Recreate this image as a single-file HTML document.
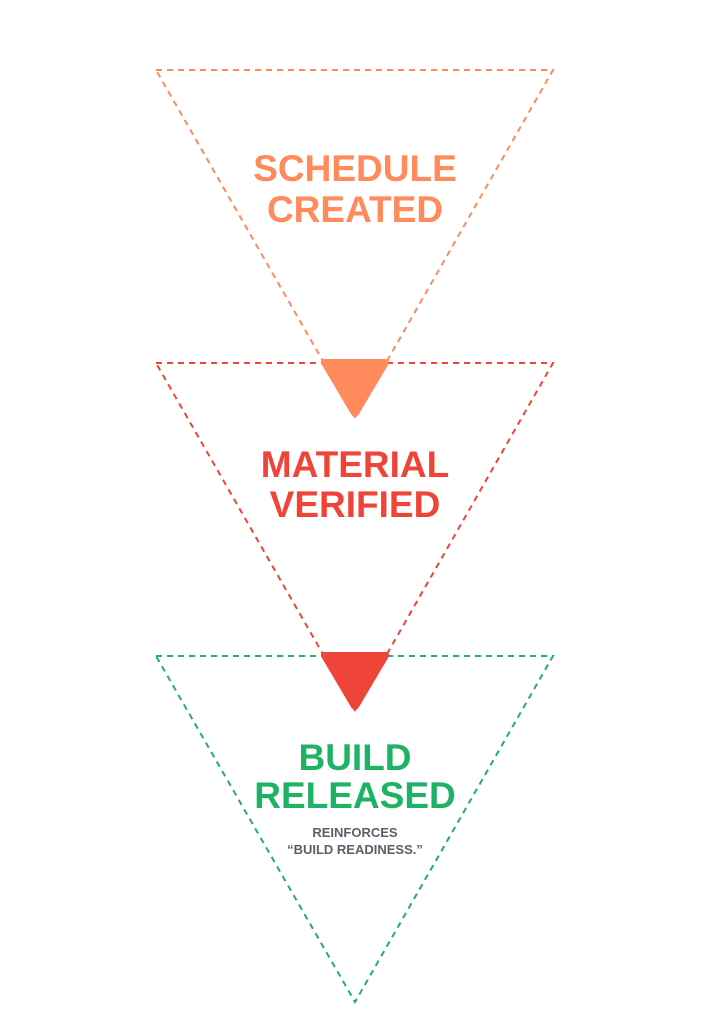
<!DOCTYPE html>
<html><head><meta charset="utf-8"><style>
html,body{margin:0;padding:0;background:#fff;}
svg{display:block;}
text{font-family:"Liberation Sans",sans-serif;font-weight:bold;text-anchor:middle;}
</style></head><body>
<svg width="710" height="1024" viewBox="0 0 710 1024" xmlns="http://www.w3.org/2000/svg">
<g fill="none" stroke-width="2" stroke-dasharray="6 5">
<polygon points="156,70 553,70 355,417" stroke="#FF8A5B"/>
<polygon points="156,363 553,363 355,710" stroke="#EF4438"/>
<polygon points="156,656 553,656 355,1002" stroke="#1DB264"/>
</g>
<path d="M325,359 L385,359 Q391,359 388,365 L359,414 Q355,420 351,414 L322,365 Q319,359 325,359 Z" fill="#FF8A5B"/>
<path d="M325,652 L385,652 Q391,652 388,658 L359,707 Q355,713 351,707 L322,658 Q319,652 325,652 Z" fill="#EF4438"/>
<g font-size="37">
<text x="355" y="181" fill="#FF8A5B">SCHEDULE</text>
<text x="355" y="222" fill="#FF8A5B">CREATED</text>
<text x="355" y="477" fill="#EF4438">MATERIAL</text>
<text x="355" y="517" fill="#EF4438">VERIFIED</text>
<text x="355" y="770" fill="#1DB264">BUILD</text>
<text x="355" y="808" fill="#1DB264">RELEASED</text>
</g>
<g font-size="13" fill="#5A5F6A">
<text x="355" y="837">REINFORCES</text>
<text x="355" y="854">“BUILD READINESS.”</text>
</g>
</svg>
</body></html>
